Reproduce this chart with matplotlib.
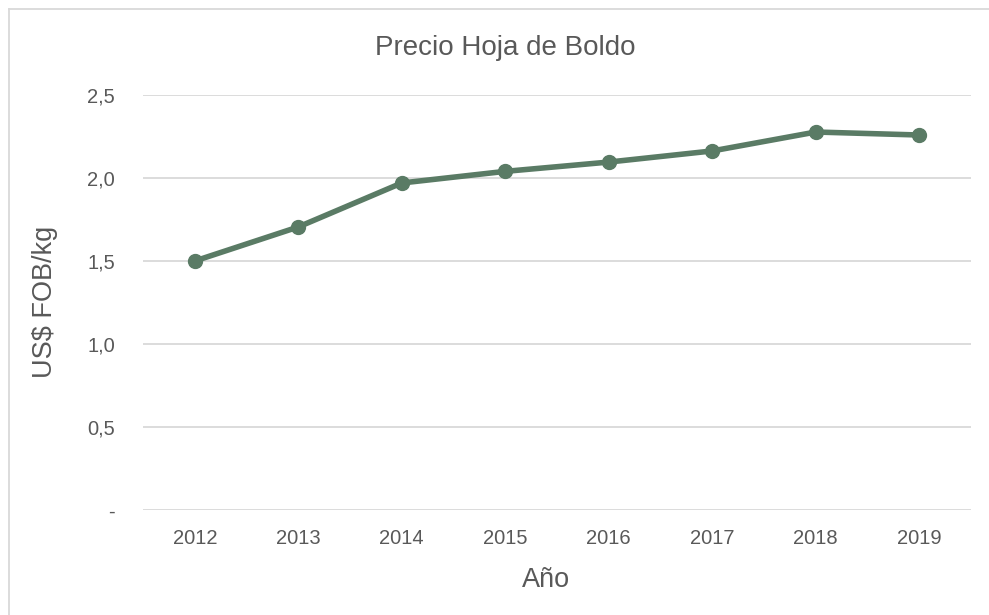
import numpy as np
import matplotlib.pyplot as plt
from matplotlib.lines import Line2D

years = ["2012", "2013", "2014", "2015", "2016", "2017", "2018", "2019"]
precio = [1.50, 1.705, 1.97, 2.04, 2.096, 2.163, 2.277, 2.259]

y_ticks = [0.0, 0.5, 1.0, 1.5, 2.0, 2.5]
y_labels = ["-", "0,5", "1,0", "1,5", "2,0", "2,5"]

plt.rcParams["font.family"] = ["Liberation Sans", "DejaVu Sans"]
txt = "#595959"
verde = "#5A7B65"
W, H = 989, 615

fig = plt.figure(figsize=(9.89, 6.15), dpi=100)
ax = fig.add_axes([143 / W, 105 / H, (971 - 143) / W, 415 / H])

x = np.arange(len(years))
ax.plot(x, precio, color=verde, linewidth=4, marker="o", markersize=10,
        solid_capstyle="round", clip_on=False, zorder=3)

ax.set_xlim(-0.5, len(years) - 0.5)
ax.set_ylim(0, 2.5)
ax.set_xticks(x)
ax.set_xticklabels(years)
ax.set_yticks(y_ticks)
ax.set_yticklabels(y_labels)
ax.tick_params(axis="both", length=0, labelsize=14.5, colors=txt)
ax.tick_params(axis="y", pad=20)
ax.tick_params(axis="x", pad=14)

ax.grid(axis="y", color="#D9D9D9", linewidth=1.3)
ax.set_axisbelow(True)
for s in ax.spines.values():
    s.set_visible(False)

# título y etiquetas de ejes en coordenadas de figura
fig.text(505 / W, 1 - 48 / H, "Precio Hoja de Boldo", fontsize=20, color=txt,
         ha="center", va="center")
fig.text(546 / W, 1 - 580 / H, "Año", fontsize=19.5, color=txt,
         ha="center", va="center")
fig.text(45 / W, 1 - 302 / H, "US$ FOB/kg", fontsize=19.5, color=txt,
         ha="center", va="center", rotation=90)

# borde del gráfico (solo izquierda y arriba visibles)
fig.add_artist(Line2D([9 / W, 9 / W], [0, 1 - 9 / H], transform=fig.transFigure,
                      color="#D9D9D9", linewidth=1.3))
fig.add_artist(Line2D([9 / W, 1], [1 - 9 / H, 1 - 9 / H], transform=fig.transFigure,
                      color="#D9D9D9", linewidth=1.3))

fig.savefig("out.png", dpi=100)
